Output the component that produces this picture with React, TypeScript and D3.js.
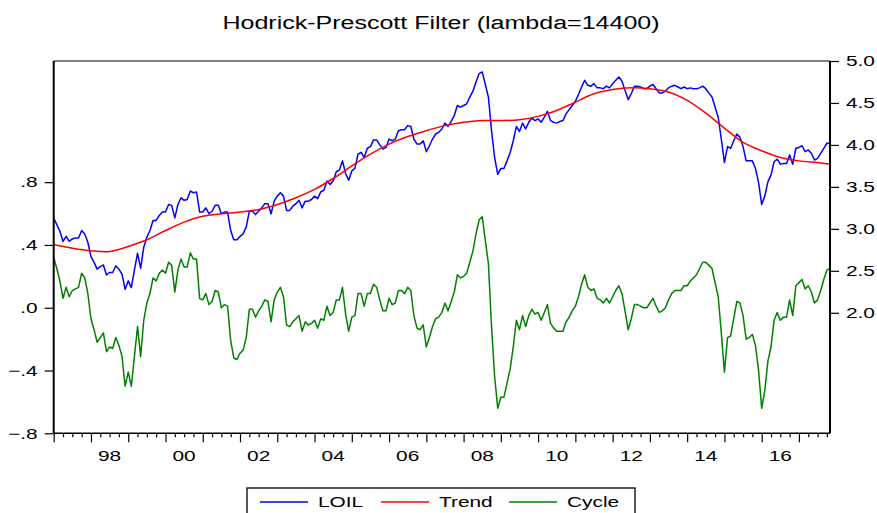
import React, { useRef, useEffect } from "react";
import * as d3 from "d3";

/* monthly observations, 1997M01 .. 2017M11 */
const startYear = 1997;

const loil = [
  3.13, 3.05, 2.97, 2.85, 2.91, 2.85, 2.88, 2.89, 2.89, 2.98, 2.94, 2.84,
  2.67, 2.6, 2.52, 2.55, 2.57, 2.45, 2.48, 2.48, 2.56, 2.52, 2.46, 2.28,
  2.38, 2.3, 2.51, 2.71, 2.53, 2.78, 2.9, 2.98, 3.1, 3.1, 3.16, 3.2,
  3.2, 3.29, 3.28, 3.13, 3.29, 3.37, 3.34, 3.35, 3.45, 3.43, 3.44, 3.2,
  3.2, 3.25, 3.18, 3.21, 3.28, 3.28, 3.18, 3.2, 3.2, 2.98, 2.87, 2.87,
  2.91, 2.94, 3.02, 3.21, 3.21, 3.17, 3.21, 3.25, 3.3, 3.3, 3.18, 3.33,
  3.39, 3.43, 3.39, 3.22, 3.22, 3.27, 3.3, 3.34, 3.25, 3.33, 3.33, 3.35,
  3.39, 3.36, 3.44, 3.46, 3.57, 3.53, 3.57, 3.68, 3.7, 3.81, 3.66, 3.58,
  3.69, 3.72, 3.89, 3.91, 3.85, 3.96, 3.98, 4.06, 4.06, 4.0, 3.95, 3.97,
  4.07, 4.05, 4.07, 4.17, 4.18, 4.18, 4.23, 4.22, 4.07, 4.01, 4.01, 4.05,
  3.92, 3.99, 4.07, 4.13, 4.15, 4.19, 4.26, 4.22, 4.28, 4.35, 4.47, 4.45,
  4.47, 4.49, 4.57, 4.64, 4.75, 4.85, 4.87, 4.72, 4.57, 4.17, 3.85, 3.65,
  3.72, 3.72, 3.81, 3.91, 4.05, 4.22, 4.16, 4.26, 4.19, 4.27, 4.32, 4.29,
  4.31, 4.27, 4.33, 4.4, 4.29, 4.27, 4.26, 4.28, 4.29, 4.37, 4.42, 4.47,
  4.52, 4.6, 4.69, 4.77, 4.71, 4.7, 4.73, 4.68, 4.68, 4.67, 4.7, 4.68,
  4.73, 4.77, 4.81, 4.76, 4.65, 4.54, 4.61, 4.7, 4.7, 4.69, 4.67, 4.67,
  4.7, 4.72, 4.67, 4.62, 4.62, 4.64, 4.68, 4.7, 4.71, 4.69, 4.67, 4.69,
  4.67, 4.68, 4.67, 4.67, 4.68, 4.7, 4.67, 4.62, 4.57, 4.45, 4.33, 4.07,
  3.79, 3.98, 3.96, 4.05, 4.13, 4.09, 3.98, 3.81, 3.81, 3.81, 3.72, 3.55,
  3.29, 3.39, 3.56, 3.64, 3.8, 3.83, 3.77, 3.78, 3.78, 3.88, 3.77, 3.96,
  3.97, 3.99, 3.92, 3.94, 3.9, 3.82, 3.84, 3.9, 3.96, 4.02, 4.02,
];

const cycle = [
  0.32, 0.25, 0.17, 0.06, 0.13, 0.07, 0.11, 0.12, 0.13, 0.22, 0.19, 0.09,
  -0.07, -0.14, -0.22, -0.19, -0.16, -0.28, -0.25, -0.26, -0.19, -0.24, -0.31, -0.5,
  -0.41, -0.5, -0.31, -0.12, -0.31, -0.08, 0.03, 0.09, 0.19, 0.17, 0.22, 0.24,
  0.22, 0.29, 0.27, 0.1, 0.24, 0.31, 0.26, 0.26, 0.35, 0.31, 0.31, 0.06,
  0.05, 0.09, 0.02, 0.04, 0.11, 0.1, 0.0, 0.02, 0.01, -0.21, -0.32, -0.33,
  -0.29, -0.27, -0.19, -0.01, -0.01, -0.06, -0.02, 0.01, 0.05, 0.04, -0.09, 0.05,
  0.1, 0.13, 0.07, -0.11, -0.12, -0.09, -0.07, -0.05, -0.15, -0.09, -0.11, -0.1,
  -0.08, -0.13, -0.07, -0.08, 0.01, -0.05, -0.03, 0.05, 0.05, 0.13, -0.04, -0.15,
  -0.06, -0.05, 0.09, 0.09, 0.01, 0.09, 0.09, 0.15, 0.13, 0.05, -0.02, -0.02,
  0.06, 0.02, 0.03, 0.11, 0.11, 0.09, 0.13, 0.11, -0.05, -0.13, -0.14, -0.11,
  -0.25, -0.19, -0.12, -0.07, -0.06, -0.03, 0.03, -0.02, 0.04, 0.1, 0.21, 0.19,
  0.2, 0.22, 0.29, 0.36, 0.47, 0.56, 0.58, 0.43, 0.28, -0.12, -0.44, -0.64,
  -0.57, -0.57, -0.48, -0.39, -0.25, -0.08, -0.14, -0.05, -0.12, -0.05, -0.01, -0.04,
  -0.03, -0.08, -0.03, 0.02, -0.1, -0.13, -0.15, -0.15, -0.15, -0.09, -0.06, -0.02,
  0.01, 0.07, 0.15, 0.21, 0.13, 0.11, 0.12, 0.06, 0.05, 0.03, 0.06, 0.03,
  0.07, 0.11, 0.14, 0.09, -0.02, -0.14, -0.07, 0.02, 0.02, 0.01, 0.0, 0.0,
  0.03, 0.06, 0.01, -0.03, -0.02, 0.0, 0.05, 0.09, 0.11, 0.11, 0.11, 0.14,
  0.14, 0.17, 0.19, 0.21, 0.25, 0.29, 0.29, 0.27, 0.25, 0.16, 0.07, -0.16,
  -0.41, -0.19, -0.18, -0.07, 0.04, 0.03, -0.05, -0.2, -0.19, -0.17, -0.24, -0.4,
  -0.64, -0.53, -0.34, -0.25, -0.08, -0.03, -0.08, -0.06, -0.06, 0.05, -0.05, 0.14,
  0.16, 0.18, 0.12, 0.14, 0.1, 0.03, 0.05, 0.11, 0.18, 0.24, 0.25,
];

const trendObs = [
  "1997M01", "1997M07", "1998M01", "1998M07", "1999M01", "1999M07",
  "2000M01", "2000M07", "2001M01", "2001M07", "2002M01", "2002M07",
  "2003M01", "2003M07", "2004M01", "2004M07", "2005M01", "2005M07",
  "2006M01", "2006M07", "2007M01", "2007M07", "2008M01", "2008M07",
  "2009M01", "2009M07", "2010M01", "2010M07", "2011M01", "2011M07",
  "2012M01", "2012M07", "2013M01", "2013M07", "2014M01", "2014M07",
  "2015M01", "2015M07", "2016M01", "2016M07", "2017M01", "2017M07", "2017M11",
];
const trend = [
  2.81, 2.77, 2.74, 2.73, 2.79, 2.87, 2.98, 3.08, 3.15, 3.18, 3.2, 3.23,
  3.29, 3.37, 3.47, 3.6, 3.75, 3.89, 4.01, 4.1, 4.17, 4.23, 4.27, 4.29,
  4.29, 4.3, 4.34, 4.41, 4.51, 4.61, 4.66, 4.68, 4.67, 4.63, 4.53, 4.38,
  4.2, 4.03, 3.93, 3.85, 3.81, 3.79, 3.77,
];

const leftTicks = [-0.8, -0.4, 0.0, 0.4, 0.8];
const rightTicks = [2.0, 2.5, 3.0, 3.5, 4.0, 4.5, 5.0];
const labelYears = [1998, 2000, 2002, 2004, 2006, 2008, 2010, 2012, 2014, 2016];
const seriesNames = ["LOIL", "Trend", "Cycle"];
const seriesColors = ["#0000ff", "#ff0000", "#008000"];
const title = "Hodrick-Prescott Filter (lambda=14400)";

const W = 877;
const H = 513;
const FONT = "'Liberation Sans', Arial, Helvetica, sans-serif";
const SX = 1.39; /* the picture's text is stretched sideways */

const obsIndex = (s: string) => {
  const [y, m] = s.split("M").map(Number);
  return (y - startYear) * 12 + (m - 1);
};

const HPChart = () => {
  const svgRef = useRef<SVGSVGElement>(null);

  const addText = (g: any, x: number, y: number, str: string, size: number, anchor: string) =>
    g
      .append("text")
      .attr("transform", `translate(${x},${y}) scale(${SX},1)`)
      .attr("text-anchor", anchor)
      .attr("font-family", FONT)
      .attr("font-size", size)
      .attr("fill", "#000")
      .text(str);

  const drawChart = () => {
    const svg = d3.select(svgRef.current);
    svg.selectAll("*").remove();
    const margin = { top: 61, right: 47, bottom: 79.7, left: 53.7 };
    const x0 = margin.left;
    const x1 = W - margin.right;
    const y0 = margin.top;
    const y1 = H - margin.bottom;

    const x = d3.scaleLinear().domain([0, loil.length - 1]).range([x0, x1]);
    const yL = d3.scaleLinear().domain([-0.8, 1.572]).range([y1, y0]);
    const yR = d3.scaleLinear().domain([0.564, 5.0]).range([y1, y0]);

    /* series */
    const lineR = d3.line<number>().x((d, i) => x(i)).y((d) => yR(d));
    const lineL = d3.line<number>().x((d, i) => x(i)).y((d) => yL(d));
    const trendLine = d3
      .line<[number, number]>()
      .x((d) => x(d[0]))
      .y((d) => yR(d[1]))
      .curve(d3.curveCatmullRom);

    const plot = svg.append("g").attr("fill", "none").attr("stroke-width", 1.5).attr("stroke-linejoin", "round");
    plot.append("path").attr("d", lineR(loil)).attr("stroke", seriesColors[0]);
    plot
      .append("path")
      .attr("d", trendLine(trendObs.map((o, i) => [obsIndex(o), trend[i]] as [number, number])))
      .attr("stroke", seriesColors[1]);
    plot.append("path").attr("d", lineL(cycle)).attr("stroke", seriesColors[2]);

    /* frame */
    const frame = svg.append("g").attr("stroke", "#000");
    frame.append("line").attr("x1", x0).attr("x2", x1).attr("y1", y0).attr("y2", y0).attr("stroke-width", 1);
    frame.append("line").attr("x1", x0).attr("x2", x1).attr("y1", y1).attr("y2", y1).attr("stroke-width", 1.5);
    frame.append("line").attr("x1", x0).attr("x2", x0).attr("y1", y0).attr("y2", y1).attr("stroke-width", 2);
    frame.append("line").attr("x1", x1).attr("x2", x1).attr("y1", y0).attr("y2", y1).attr("stroke-width", 2);

    /* left axis */
    const fmtLeft = (d: number) => d3.format(".1f")(d).replace("0.", ".");
    const left = svg
      .append("g")
      .attr("transform", `translate(${x0},0)`)
      .call(d3.axisLeft(yL).tickValues(leftTicks).tickSize(9).tickSizeOuter(0).tickPadding(7).tickFormat(fmtLeft as any));
    left.select(".domain").remove();
    left.attr("font-size", 15).attr("font-family", FONT);
    left.selectAll("line").attr("stroke", "#000").attr("stroke-width", 1.2);
    left.selectAll("text").attr("fill", "#000").attr("x", -16 / SX).attr("transform", `scale(${SX},1)`);

    /* right axis */
    const right = svg
      .append("g")
      .attr("transform", `translate(${x1},0)`)
      .call(d3.axisRight(yR).tickValues(rightTicks).tickSize(9).tickSizeOuter(0).tickPadding(7).tickFormat(d3.format(".1f") as any));
    right.select(".domain").remove();
    right.attr("font-size", 15).attr("font-family", FONT);
    right.selectAll("line").attr("stroke", "#000").attr("stroke-width", 1.2);
    right.selectAll("text").attr("fill", "#000").attr("x", 16 / SX).attr("transform", `scale(${SX},1)`);

    /* bottom axis: yearly and quarterly ticks */
    const majors = d3.range(0, loil.length, 12);
    const minors = d3.range(0, loil.length, 3).filter((i) => i % 12 !== 0);
    const bMajor = svg
      .append("g")
      .attr("transform", `translate(0,${y1})`)
      .call(d3.axisBottom(x).tickValues(majors).tickSize(9).tickSizeOuter(0).tickFormat(() => ""));
    const bMinor = svg
      .append("g")
      .attr("transform", `translate(0,${y1})`)
      .call(d3.axisBottom(x).tickValues(minors).tickSize(4).tickSizeOuter(0).tickFormat(() => ""));
    [bMajor, bMinor].forEach((g) => {
      g.select(".domain").remove();
      g.selectAll("line").attr("stroke", "#000").attr("stroke-width", 1.2);
    });
    labelYears.forEach((yr) => {
      addText(svg, x((yr - startYear) * 12 + 6), 461, String(yr % 100).padStart(2, "0"), 15, "middle");
    });

    /* title */
    addText(svg, 441, 29, title, 18, "middle");

    /* legend */
    const legend = svg.append("g");
    legend
      .append("rect")
      .attr("x", 247)
      .attr("y", 488)
      .attr("width", 388)
      .attr("height", 40)
      .attr("fill", "#fff")
      .attr("stroke", "#000")
      .attr("stroke-width", 1.3);
    const itemStarts = [260, 381, 509];
    seriesNames.forEach((name, i) => {
      legend
        .append("line")
        .attr("x1", itemStarts[i])
        .attr("x2", itemStarts[i] + 48)
        .attr("y1", 502)
        .attr("y2", 502)
        .attr("stroke", seriesColors[i])
        .attr("stroke-width", 1.5);
      addText(legend, itemStarts[i] + 58, 507, name, 15, "start");
    });
  };

  useEffect(() => {
    drawChart();
  }, []);

  return (
    <svg
      ref={svgRef}
      width={W}
      height={H}
      style={{ position: "absolute", left: 0, top: 0, background: "#fff" }}
    ></svg>
  );
};

export default function App() {
  return <HPChart />;
}
